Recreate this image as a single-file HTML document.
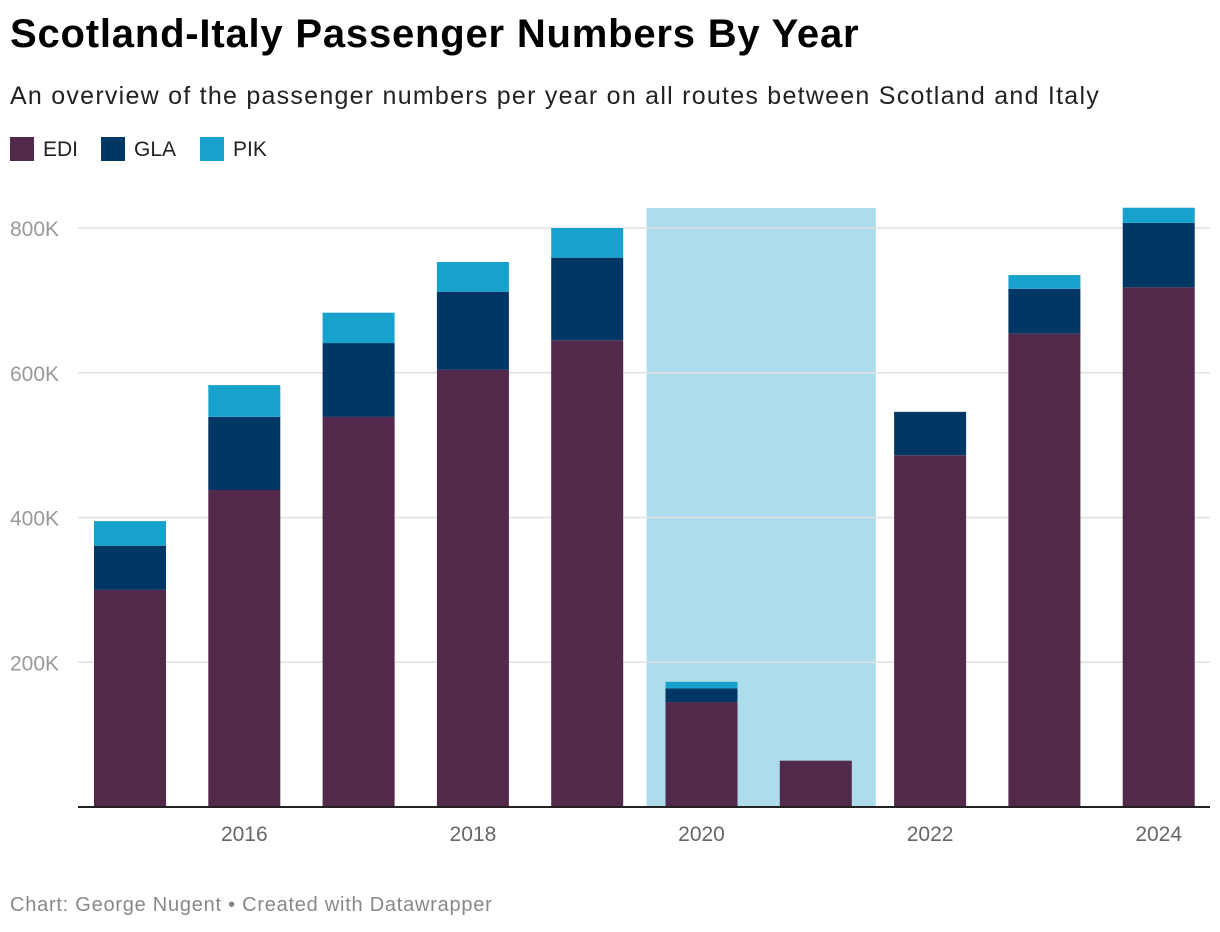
<!DOCTYPE html>
<html><head><meta charset="utf-8">
<style>
body{margin:0;width:1220px;height:932px;background:#fff;font-family:"Liberation Sans",sans-serif;overflow:hidden;position:relative}
.t{position:absolute;white-space:nowrap}
</style></head><body>
<div class="t" style="left:10px;top:12px;font-size:40px;font-weight:bold;color:#000;letter-spacing:0.8px">Scotland-Italy Passenger Numbers By Year</div>
<div class="t" style="left:10px;top:82px;font-size:25px;color:#222;letter-spacing:1.25px">An overview of the passenger numbers per year on all routes between Scotland and Italy</div>
<div style="position:absolute;left:10px;top:137px;font-size:21px;color:#222">
<span style="position:absolute;left:0;top:0"><span style="display:inline-block;width:24px;height:24px;background:#52294b;vertical-align:middle"></span><span style="position:absolute;left:33px;top:1px">EDI</span></span>
<span style="position:absolute;left:91px;top:0"><span style="display:inline-block;width:24px;height:24px;background:#003764;vertical-align:middle"></span><span style="position:absolute;left:33px;top:1px">GLA</span></span>
<span style="position:absolute;left:190px;top:0"><span style="display:inline-block;width:24px;height:24px;background:#18a1cd;vertical-align:middle"></span><span style="position:absolute;left:33px;top:1px">PIK</span></span>
</div>
<svg id="c" width="1220" height="932" style="position:absolute;left:0;top:0"></svg>
<div class="t" style="left:10px;top:894px;font-size:20px;color:#888;letter-spacing:0.75px">Chart: George Nugent • Created with Datawrapper</div>
<script>
const years=[2015,2016,2017,2018,2019,2020,2021,2022,2023,2024];
const edi=[300,438,539,604,645,145,64,486,654,718];
const gla=[61,101,102,108,114,19,0,60,62,89];
const pik=[34,44,42,41,41,9,0,0,19,21];
const yTicks=[200,400,600,800];
const xTicks=[2016,2018,2020,2022,2024];
const highlight=[2020,2021];
const ns="http://www.w3.org/2000/svg",svg=document.getElementById('c');
const y=v=>807-v*579/800;
const x=yr=>130+(yr-2015)*114.3;
const bw=72;
function mk(t,a){const e=document.createElementNS(ns,t);for(const k in a)e.setAttribute(k,a[k]);svg.appendChild(e);return e;}
const h=mk('rect',{x:x(highlight[0])-bw/2-19,y:208,width:x(highlight[1])-x(highlight[0])+bw+43,height:807-208,fill:'#addcec'});


yTicks.forEach(v=>{
 const l=mk('line',{x1:78,x2:1210,y1:y(v),y2:y(v),stroke:'#e0e0e0','stroke-width':1.5});
 
 
 const t=mk('text',{x:10,y:y(v)+8,'font-size':21,fill:'#999','font-family':'Liberation Sans'});
 t.textContent=v+'K';
 
 
});
years.forEach((yr,i)=>{
 let base=0;
 [[edi,'#52294b','edi'],[gla,'#003764','gla'],[pik,'#18a1cd','pik']].forEach(([arr,col,n])=>{
  const v=arr[i];if(v<=0)return;
  const r=mk('rect',{x:x(yr)-bw/2,y:y(base+v),width:bw,height:y(base)-y(base+v),fill:col});
  
  
  base+=v;
 });
});
const ax=mk('line',{x1:78,x2:1210,y1:807,y2:807,stroke:'#222','stroke-width':2});


xTicks.forEach(yr=>{
 const t=mk('text',{x:x(yr),y:841,'font-size':21,fill:'#666','text-anchor':'middle','font-family':'Liberation Sans'});
 t.textContent=yr;
 
 
});
</script>
</body></html>
